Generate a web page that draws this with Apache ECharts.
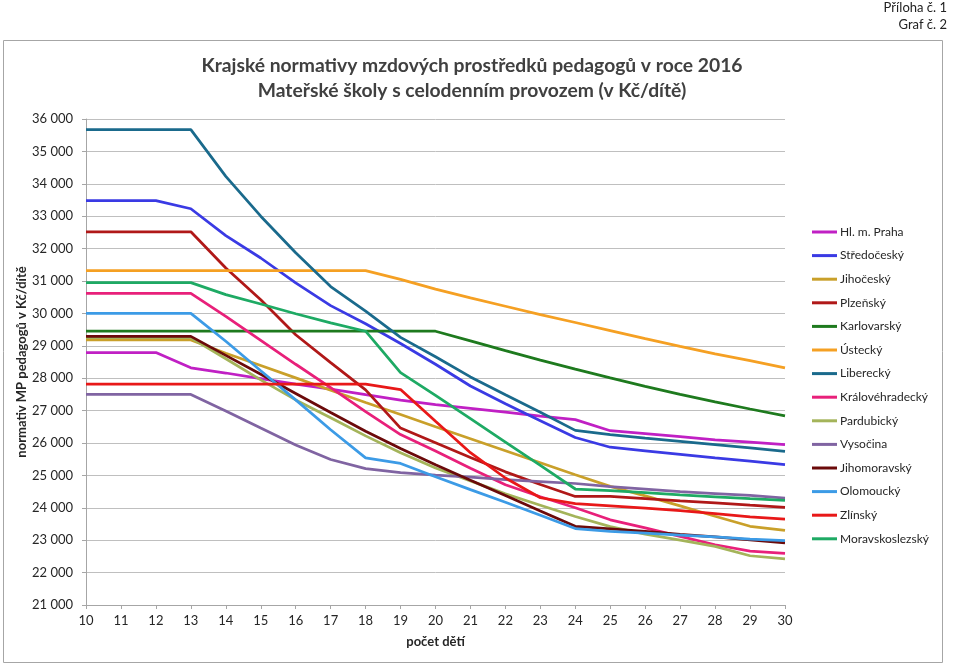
<!DOCTYPE html>
<html>
<head>
<meta charset="utf-8">
<script src="https://cdn.jsdelivr.net/npm/echarts@6/dist/echarts.min.js"></script>
<style>html,body{margin:0;padding:0;background:#fff}#c{width:960px;height:666px}</style>
</head>
<body>
<div id="c"></div>
<script>
const counts = ['10','11','12','13','14','15','16','17','18','19','20','21','22','23','24','25','26','27','28','29','30'];
const yTicks = [21000,36000,1000];

const praha = [28790,28790,28790,28320,28160,27990,27820,27660,27490,27325,27185,27070,26950,26830,26720,26380,26290,26200,26100,26030,25950];
const stredocesky = [33480,33480,33480,33230,32400,31710,30940,30240,29680,29070,28430,27760,27210,26690,26170,25870,25760,25650,25540,25440,25330];
const jihocesky = [29180,29180,29180,29180,28770,28390,28010,27630,27250,26880,26500,26130,25760,25390,25020,24660,24370,24060,23740,23430,23300];
const plzensky = [32520,32520,32520,32520,31400,30420,29340,28480,27640,26460,26010,25550,25110,24720,24350,24350,24280,24210,24150,24080,24015];
const karlovarsky = [29450,29450,29450,29450,29450,29450,29450,29450,29450,29450,29450,29150,28850,28560,28280,28010,27750,27500,27270,27050,26840];
const ustecky = [31320,31320,31320,31320,31320,31320,31320,31320,31320,31050,30750,30480,30220,29960,29720,29470,29220,28980,28750,28540,28320];
const liberecky = [35670,35670,35670,35670,34230,33000,31870,30830,30070,29260,28660,28040,27490,26950,26390,26260,26150,26050,25950,25850,25740];
const kralovehradecky = [30620,30620,30620,30620,29910,29170,28430,27710,26970,26260,25750,25220,24710,24340,24000,23630,23380,23120,22860,22660,22590];
const pardubicky = [29250,29250,29250,29250,28600,27950,27330,26780,26220,25700,25230,24830,24430,24080,23730,23420,23190,23000,22810,22520,22420];
const vysocina = [27500,27500,27500,27500,26990,26460,25940,25490,25210,25085,25010,24950,24870,24810,24750,24650,24580,24500,24440,24380,24300];
const jihomoravsky = [29290,29290,29290,29290,28705,28120,27530,26940,26360,25830,25330,24850,24380,23900,23430,23350,23270,23180,23100,23010,22920];
const olomoucky = [30000,30000,30000,30000,29140,28230,27330,26410,25540,25370,24960,24560,24170,23770,23360,23270,23220,23160,23100,23030,22990];
const zlinsky = [27820,27820,27820,27820,27820,27820,27820,27820,27820,27650,26670,25700,24920,24310,24130,24060,23990,23910,23820,23720,23650];
const moravskoslezsky = [30950,30950,30950,30950,30580,30290,29990,29710,29450,28170,27470,26750,26030,25310,24580,24530,24470,24400,24340,24280,24230];

const names = ['Hl. m. Praha','Středočeský','Jihočeský','Plzeňský','Karlovarský','Ústecký','Liberecký','Královéhradecký','Pardubický','Vysočina','Jihomoravský','Olomoucký','Zlínský','Moravskoslezský'];
const values = [praha,stredocesky,jihocesky,plzensky,karlovarsky,ustecky,liberecky,kralovehradecky,pardubicky,vysocina,jihomoravsky,olomoucky,zlinsky,moravskoslezsky];
const colors = ['#c020c4','#3a3ae4','#c9a02a','#b01818','#1e7a1e','#f5a023','#1a6a8c','#e8207a','#a4b45a','#8064a2','#6b0a0a','#3c9be6','#e81818','#1eaa64'];

const FONT = 'Lato, "Noto Sans", sans-serif';
const chart = echarts.init(document.getElementById('c'), null, {renderer:'canvas'});
chart.setOption({
  animation: false,
  backgroundColor: '#fff',
  textStyle: {fontFamily: FONT},
  graphic: [
    {type:'rect', shape:{x:3.5,y:40.5,width:939,height:622}, style:{fill:'none', stroke:'#a6a6a6', lineWidth:1}, silent:true},
    {type:'text', x:947, y:8, style:{text:'Příloha č. 1', fontFamily:FONT, fontSize:13, fill:'#222', align:'right', verticalAlign:'middle'}},
    {type:'text', x:947, y:25, style:{text:'Graf č. 2', fontFamily:FONT, fontSize:13, fill:'#222', align:'right', verticalAlign:'middle'}},
    {type:'text', x:472, y:66, style:{text:'Krajské normativy mzdových prostředků pedagogů v roce 2016', fontFamily:FONT, fontSize:19.3, fontWeight:'bold', fill:'#404040', align:'center', verticalAlign:'middle'}},
    {type:'text', x:472, y:91, style:{text:'Mateřské školy s celodenním provozem (v Kč/dítě)', fontFamily:FONT, fontSize:19.3, fontWeight:'bold', fill:'#404040', align:'center', verticalAlign:'middle'}}
  ],
  grid: {left:86, right:175, top:119, bottom:61, containLabel:false},
  legend: {
    orient:'vertical', left:807, top:220, itemWidth:25, itemHeight:3, itemGap:9.6,
    icon:'rect', data:names,
    textStyle:{fontFamily:FONT, fontSize:12, color:'#262626', lineHeight:14, padding:[0,0,0,-2]}
  },
  xAxis: {
    type:'category', data:counts, boundaryGap:false,
    name:'počet dětí', nameLocation:'middle', nameGap:30,
    nameTextStyle:{fontFamily:FONT, fontSize:13, fontWeight:'bold', color:'#262626'},
    axisLine:{lineStyle:{color:'#a6a6a6'}},
    axisTick:{show:true, alignWithLabel:true, length:4, lineStyle:{color:'#a6a6a6'}},
    axisLabel:{fontFamily:FONT, fontSize:13, color:'#262626', margin:9},
    splitLine:{show:false}
  },
  yAxis: {
    type:'value', min:yTicks[0], max:yTicks[1], interval:yTicks[2],
    name:'normativ MP pedagogů v Kč/dítě', nameLocation:'middle', nameGap:58, nameMoveOverlap:false,
    nameTextStyle:{fontFamily:FONT, fontSize:13, fontWeight:'bold', color:'#262626'},
    axisLine:{show:true, lineStyle:{color:'#a6a6a6'}},
    axisTick:{show:true, length:4, lineStyle:{color:'#a6a6a6'}},
    axisLabel:{fontFamily:FONT, fontSize:13, color:'#262626', margin:13,
      formatter: v => (v/1000) + ' 000'},
    splitLine:{show:true, lineStyle:{color:'#bfbfbf', width:1}}
  },
  series: names.map((n,i) => ({
    name:n, type:'line', data:values[i], symbol:'none',
    lineStyle:{color:colors[i], width:2.75}, itemStyle:{color:colors[i]},
    emphasis:{disabled:true}
  }))
});
</script>
</body>
</html>
